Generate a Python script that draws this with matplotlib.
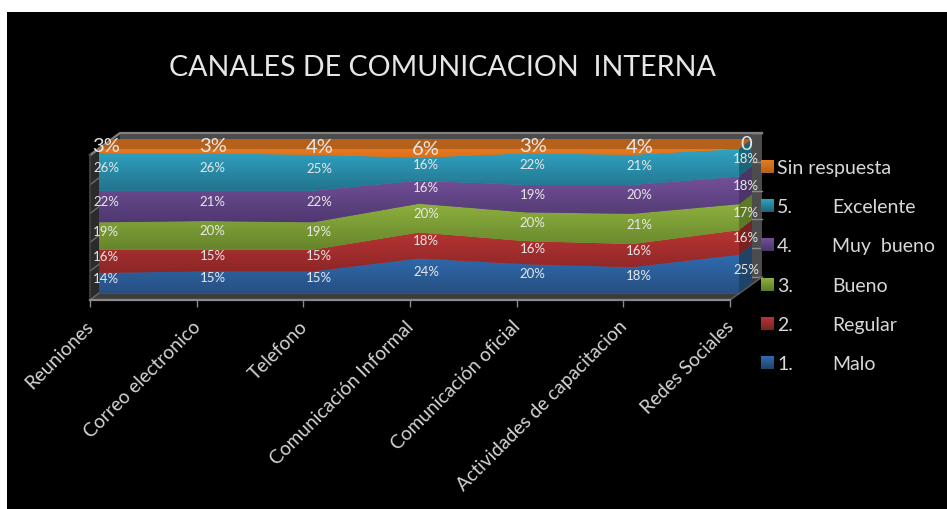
import numpy as np
import matplotlib
matplotlib.use('Agg')
import matplotlib.pyplot as plt
from matplotlib.colors import LinearSegmentedColormap
from matplotlib.patches import Polygon
from matplotlib.transforms import ScaledTranslation

W, H = 947, 509

categories = ['Reuniones', 'Correo electronico', 'Telefono', 'Comunicación Informal',
              'Comunicación oficial', 'Actividades de capacitacion', 'Redes Sociales']
malo = [14, 15, 15, 24, 20, 18, 25]
regular = [16, 15, 15, 18, 16, 16, 16]
bueno = [19, 20, 19, 20, 20, 21, 17]
muy_bueno = [22, 21, 22, 16, 19, 20, 18]
excelente = [26, 26, 25, 16, 22, 21, 18]
sin_respuesta = [3, 3, 4, 6, 3, 4, 0]

series = [malo, regular, bueno, muy_bueno, excelente, sin_respuesta]
legend_nums = ['1.', '2.', '3.', '4.', '5.', '']
legend_names = ['Malo', 'Regular', 'Bueno', 'Muy  bueno', 'Excelente', 'Sin respuesta']

# top colour, bottom colour, side colour
colors = [('#2e6cb0', '#284f82', '#1f4468'),
          ('#b83434', '#8c2626', '#7a2222'),
          ('#8db03e', '#66852c', '#5c7a28'),
          ('#74509a', '#4f3870', '#4a3468'),
          ('#2fa3c2', '#23738c', '#1d6478'),
          ('#e87a1e', '#d96f18', '#b5611b')]

plt.rcParams['font.family'] = ['Lato', 'DejaVu Sans']

fig = plt.figure(figsize=(W / 100, H / 100), dpi=100, facecolor='white')


def px_axes(x0, y0, x1, y1):
    return fig.add_axes([x0 / W, 1 - y1 / H, (x1 - x0) / W, (y1 - y0) / H])


def gradient_fill(ax, path, c_top, c_bottom, extent, zorder):
    cmap = LinearSegmentedColormap.from_list('g', [c_bottom, c_top])
    im = ax.imshow(np.linspace(0, 1, 64).reshape(-1, 1), extent=extent, origin='lower',
                   cmap=cmap, aspect='auto', interpolation='bilinear', zorder=zorder)
    im.set_clip_path(path, transform=ax.transData)


# background, walls and floor are drawn in pixel coordinates
bg = px_axes(7, 12, W, H)
bg.set_xlim(7, W)
bg.set_ylim(H, 12)
bg.axis('off')
bg.add_patch(Polygon([(7, 12), (W, 12), (W, H), (7, H)], fc='black', ec='none', zorder=0))
bg.add_patch(Polygon([(120, 133), (762, 133), (762, 277), (120, 277)], fc='#4c4c4c', ec='none', zorder=1))
bg.add_patch(Polygon([(90, 155), (120, 133), (120, 277), (90, 300)], fc='#2b2b2b', ec='none', zorder=1))
bg.add_patch(Polygon([(90, 300), (730, 300), (762, 277), (120, 277)], fc='#3c3c3c', ec='none', zorder=1))
for i in range(6):
    y = 277 - i * 28.8
    bg.plot([752, 762], [y, y], color='#8a8a8a', lw=1, zorder=2)
    bg.plot([90, 99], [y + 23, y + 16], color='#6a6a6a', lw=1, zorder=2)
bg.plot([90, 120, 762], [155, 133, 133], color='#808080', lw=1.6, zorder=2)
bg.plot([762, 730], [277, 300], color='#5a5a5a', lw=1.2, zorder=2)
bg.plot([90, 90], [155, 300], color='#444444', lw=1.2, zorder=2)

# the areas: axes box is the front face of the stack
ax = px_axes(99, 149, 739, 293)
ax.patch.set_alpha(0)
ax.axis('off')

x = np.arange(len(categories))
values = np.array(series, dtype=float)
shares = values / values.sum(axis=0) * 100
tops = np.cumsum(shares, axis=0)
bottoms = tops - shares

dx = 13 / (640 / 6)
dy = 10 / 1.44

for i in range(len(series)):
    c_top, c_bottom, c_side = colors[i]
    poly = ax.fill_between(x, bottoms[i], tops[i], color=c_top, lw=0, zorder=3)
    gradient_fill(ax, poly.get_paths()[0], c_top, c_bottom,
                  [0, 6, bottoms[i].min(), tops[i].max()], 4)
    ax.fill([6, 6, 6 + dx, 6 + dx],
            [bottoms[i][-1], tops[i][-1], tops[i][-1] + dy, bottoms[i][-1] + dy],
            color=c_side, lw=0, clip_on=False, zorder=3)

ax.fill([0, 6, 6 + dx, dx], [100, 100, 100 + dy, 100 + dy], color=colors[5][2], lw=0,
        clip_on=False, zorder=3)

ax.set_xlim(0, 6)
ax.set_ylim(0, 100)

# data labels, the top series uses a bigger font
for i in range(len(series)):
    for j in range(len(categories)):
        v = series[i][j]
        label = '0' if v == 0 else f'{v}%'
        ax.annotate(label, (x[j], (bottoms[i][j] + tops[i][j]) / 2),
                    xytext=(5, 3), textcoords='offset points',
                    ha='center', va='center', color='#e8e8e8', annotation_clip=False,
                    fontsize=14.5 if i == 5 else 9.5, zorder=6)

# category axis sits on the front edge of the floor
cat_ax = px_axes(90, 290, 730, 300)
cat_ax.patch.set_alpha(0)
cat_ax.set_xlim(0, 6)
cat_ax.set_yticks([])
for name in ['top', 'left', 'right']:
    cat_ax.spines[name].set_visible(False)
cat_ax.spines['bottom'].set_color('#8a8a8a')
cat_ax.spines['bottom'].set_linewidth(1.6)
cat_ax.set_xticks(x)
cat_ax.set_xticklabels(categories, rotation=45, ha='right', rotation_mode='anchor',
                       color='#d4d4d4', fontsize=13.8)
cat_ax.tick_params(axis='x', length=5, width=1, color='#8a8a8a', pad=8)
shift = ScaledTranslation(-5 / 100, 0, fig.dpi_scale_trans)
for tick_label in cat_ax.get_xticklabels():
    tick_label.set_transform(tick_label.get_transform() + shift)

fig.text(442 / W, 1 - 68 / H, 'CANALES DE COMUNICACION  INTERNA', color='#e6e6e6',
         fontsize=20.6, ha='center', va='center')

# legend
legend_y = [363, 324, 285, 245, 206, 167]
for i in range(len(series)):
    y = legend_y[i]
    key = Polygon([(761, y - 6.5), (774, y - 6.5), (774, y + 6.5), (761, y + 6.5)], fc=colors[i][2], ec='none', zorder=3)
    bg.add_patch(key)
    gradient_fill(bg, key.get_path(), colors[i][0], colors[i][2], [761, 774, y + 6.5, y - 6.5], 4)
    if legend_nums[i]:
        bg.text(777, y + 1.5, legend_nums[i], color='#d8d8d8', fontsize=14, va='center', zorder=5)
        bg.text(832, y + 1.5, legend_names[i], color='#d8d8d8', fontsize=14, va='center', zorder=5)
    else:
        bg.text(777, y + 1.5, legend_names[i], color='#d8d8d8', fontsize=14, va='center', zorder=5)
bg.set_xlim(7, W)
bg.set_ylim(H, 12)

fig.savefig('out.png', dpi=100, facecolor=fig.get_facecolor())
